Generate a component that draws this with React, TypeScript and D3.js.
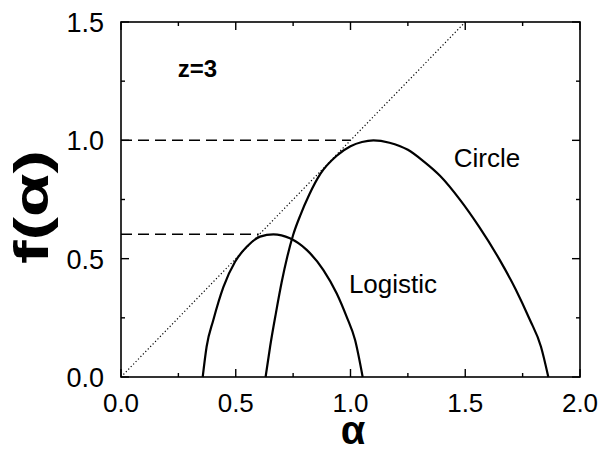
import React from "react";
import * as d3 from "d3";

// f(alpha) spectra
const logisticAlpha = [0.356, 0.373, 0.402, 0.446, 0.497, 0.548, 0.606, 0.664, 0.736, 0.809, 0.882, 0.94, 0.983, 1.02, 1.053];
const logisticF = [0, 0.128, 0.24, 0.38, 0.487, 0.55, 0.593, 0.603, 0.586, 0.537, 0.452, 0.353, 0.255, 0.156, 0];

const circleAlpha = [0.63, 0.65, 0.675, 0.7, 0.725, 0.75, 0.78, 0.82, 0.87, 0.94, 1.0, 1.05, 1.1, 1.17, 1.25, 1.32, 1.39, 1.48, 1.56, 1.65, 1.72, 1.78, 1.83, 1.862];
const circleF = [0, 0.13, 0.27, 0.4, 0.51, 0.6, 0.68, 0.77, 0.86, 0.935, 0.975, 0.993, 1.0, 0.99, 0.96, 0.91, 0.85, 0.745, 0.635, 0.495, 0.37, 0.245, 0.128, 0];

// f = alpha reference line
const diagonalAlpha = [0, 1.5];
const diagonalF = [0, 1.5];

// dashed guides at the maxima
const guideLevels = [1.0, 0.603];
const guideEnds = [1.0, 0.6];

const xTicks = [0, 0.5, 1.0, 1.5, 2.0];
const yTicks = [0, 0.5, 1.0, 1.5];
const xMinor = [0.25, 0.75, 1.25, 1.75];
const yMinor = [0.25, 0.75, 1.25];

const labels = [
  { text: "z=3", x: 0.333, y: 1.267, bold: true, size: 24 },
  { text: "Circle", x: 1.595, y: 0.887, bold: false, size: 26 },
  { text: "Logistic", x: 1.185, y: 0.355, bold: false, size: 26 },
];

const W = 603;
const H = 451;
const left = 121;
const right = 580;
const top = 22;
const bottom = 377;

export default function App() {
  const x = d3.scaleLinear().domain([0, 2]).range([left, right]);
  const y = d3.scaleLinear().domain([0, 1.5]).range([bottom, top]);
  const fmt = d3.format(".1f");

  const line = d3
    .line<[number, number]>()
    .x((d) => x(d[0]))
    .y((d) => y(d[1]))
    .curve(d3.curveMonotoneX);

  const logistic = line(logisticAlpha.map((a, i) => [a, logisticF[i]]));
  const circle = line(circleAlpha.map((a, i) => [a, circleF[i]]));
  const diag = d3
    .line<[number, number]>()
    .x((d) => x(d[0]))
    .y((d) => y(d[1]))(diagonalAlpha.map((a, i) => [a, diagonalF[i]]));

  const font = "'Liberation Sans', Arial, sans-serif";

  return (
    <svg width={W} height={H} style={{ position: "absolute", left: 0, top: 0, background: "#fff" }}>
      <rect width={W} height={H} fill="#fff" />

      {/* reference line and guides */}
      <path d={diag || ""} fill="none" stroke="#000" strokeWidth={1.2} strokeDasharray="1.2,2.3" />
      {guideLevels.map((v, i) => (
        <line key={"g" + i} x1={x(0)} x2={x(guideEnds[i])} y1={y(v)} y2={y(v)} stroke="#000" strokeWidth={1.5} strokeDasharray="11,6" />
      ))}

      {/* curves */}
      <path d={logistic || ""} fill="none" stroke="#000" strokeWidth={2.2} />
      <path d={circle || ""} fill="none" stroke="#000" strokeWidth={2.2} />

      {/* frame */}
      <rect x={left} y={top} width={right - left} height={bottom - top} fill="none" stroke="#000" strokeWidth={1.6} />

      {/* ticks, inward on all sides */}
      {xTicks.concat(xMinor).map((t, i) => {
        const len = xMinor.includes(t) ? 4 : 8;
        return (
          <g key={"xt" + i}>
            <line x1={x(t)} x2={x(t)} y1={bottom} y2={bottom - len} stroke="#000" strokeWidth={1.4} />
            <line x1={x(t)} x2={x(t)} y1={top} y2={top + len} stroke="#000" strokeWidth={1.4} />
          </g>
        );
      })}
      {yTicks.concat(yMinor).map((t, i) => {
        const len = yMinor.includes(t) ? 4 : 8;
        return (
          <g key={"yt" + i}>
            <line x1={left} x2={left + len} y1={y(t)} y2={y(t)} stroke="#000" strokeWidth={1.4} />
            <line x1={right} x2={right - len} y1={y(t)} y2={y(t)} stroke="#000" strokeWidth={1.4} />
          </g>
        );
      })}

      {/* tick labels */}
      {xTicks.map((t) => (
        <text key={"xl" + t} x={x(t)} y={412} textAnchor="middle" fontFamily={font} fontSize={26}>
          {fmt(t)}
        </text>
      ))}
      {yTicks.map((t) => (
        <text key={"yl" + t} x={104} y={y(t) + 10} textAnchor="end" fontFamily={font} fontSize={27}>
          {fmt(t)}
        </text>
      ))}

      {/* axis titles */}
      <text x={353} y={444} textAnchor="middle" fontFamily={font} fontSize={40} fontWeight="bold">
        α
      </text>
      <text
        transform="translate(48,207) rotate(-90)"
        textAnchor="middle"
        fontFamily={font}
        fontSize={48}
        fontWeight="bold"
        textLength={114}
        lengthAdjust="spacingAndGlyphs"
      >
        f(α)
      </text>

      {/* annotations */}
      {labels.map((l) => (
        <text key={l.text} x={x(l.x)} y={y(l.y)} textAnchor="middle" fontFamily={font} fontSize={l.size} fontWeight={l.bold ? "bold" : "normal"}>
          {l.text}
        </text>
      ))}
    </svg>
  );
}
